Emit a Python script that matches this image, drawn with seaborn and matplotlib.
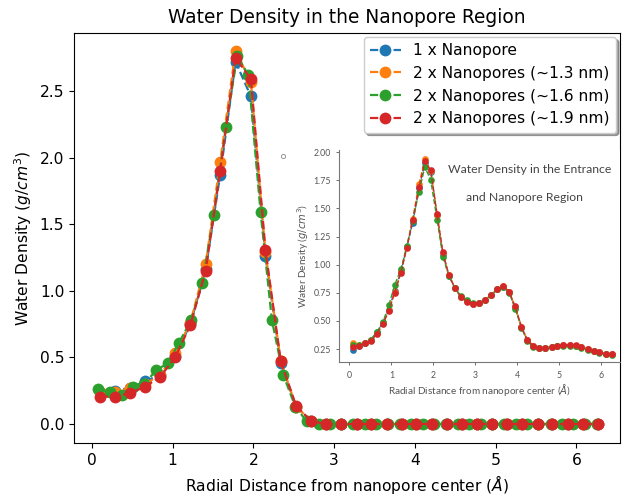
import matplotlib
matplotlib.use("Agg")
import matplotlib.pyplot as plt
import seaborn as sns

# ---------------- main plot data ----------------
x_main = [0.10, 0.29, 0.47, 0.66, 0.85, 1.03, 1.22, 1.41, 1.59, 1.78, 1.97, 2.15,
          2.34, 2.53, 2.72, 2.90, 3.09, 3.28, 3.46, 3.65, 3.84, 4.02, 4.21, 4.40,
          4.58, 4.77, 4.96, 5.14, 5.33, 5.52, 5.70, 5.89, 6.08, 6.27]
zeros19 = [0.0] * 19
blue_main = [0.24, 0.25, 0.27, 0.32, 0.37, 0.51, 0.75, 1.16, 1.87, 2.72, 2.46, 1.26,
             0.46, 0.13, 0.02] + zeros19
orange_main = [0.24, 0.24, 0.27, 0.30, 0.37, 0.53, 0.76, 1.20, 1.97, 2.80, 2.57, 1.29,
               0.47, 0.13, 0.02] + zeros19
red_main = [0.205, 0.205, 0.23, 0.28, 0.355, 0.50, 0.74, 1.15, 1.90, 2.75, 2.59, 1.31,
            0.47, 0.135, 0.02] + zeros19

x_green = [0.08, 0.22, 0.37, 0.51, 0.65, 0.80, 0.94, 1.08, 1.23, 1.37, 1.51, 1.66,
           1.80, 1.94, 2.09, 2.23, 2.37, 2.52, 2.66, 2.81, 2.95, 3.09, 3.24, 3.38,
           3.52, 3.67, 3.81, 3.95, 4.10, 4.24, 4.38, 4.53, 4.67, 4.82, 4.96, 5.10,
           5.25, 5.39, 5.53, 5.68, 5.82, 5.96, 6.11, 6.25]
green_main = [0.26, 0.24, 0.22, 0.28, 0.30, 0.405, 0.455, 0.61, 0.78, 1.06, 1.57, 2.23,
              2.76, 2.62, 1.59, 0.78, 0.37, 0.13, 0.02] + [0.0] * 25

stray_x = [2.37]
stray_y = [2.01]

labels = ["1 x Nanopore", "2 x Nanopores (~1.3 nm)",
          "2 x Nanopores (~1.6 nm)", "2 x Nanopores (~1.9 nm)"]
colors = ["#1f77b4", "#ff7f0e", "#2ca02c", "#d62728"]

# ---------------- inset data ----------------
x_inset = x_green
red_inset = [0.27, 0.28, 0.30, 0.32, 0.38, 0.47, 0.59, 0.75, 0.93, 1.15, 1.40, 1.69,
             1.92, 1.84, 1.45, 1.11, 0.91, 0.79, 0.71, 0.67, 0.65, 0.66, 0.69, 0.73,
             0.78, 0.81, 0.76, 0.63, 0.45, 0.33, 0.28, 0.26, 0.26, 0.27, 0.28, 0.285,
             0.29, 0.285, 0.27, 0.25, 0.235, 0.22, 0.21, 0.205]
green_inset = [0.29, 0.29, 0.30, 0.33, 0.40, 0.49, 0.64, 0.82, 0.96, 1.17, 1.39, 1.65,
               1.87, 1.75, 1.40, 1.07, 0.90, 0.79, 0.72, 0.69, 0.66, 0.66, 0.69, 0.73,
               0.78, 0.80, 0.75, 0.61, 0.44, 0.32, 0.27, 0.26, 0.26, 0.27, 0.28, 0.28,
               0.28, 0.28, 0.26, 0.245, 0.23, 0.215, 0.205, 0.20]
orange_inset = [0.30, 0.29, 0.30, 0.33, 0.39, 0.48, 0.60, 0.76, 0.94, 1.16, 1.41, 1.72,
                1.94, 1.83, 1.44, 1.10, 0.91, 0.79, 0.71, 0.68, 0.65, 0.66, 0.69, 0.73,
                0.78, 0.81, 0.76, 0.62, 0.45, 0.33, 0.28, 0.26, 0.26, 0.27, 0.28, 0.285,
                0.29, 0.28, 0.27, 0.25, 0.235, 0.22, 0.21, 0.205]
blue_inset = [0.24, 0.28, 0.30, 0.33, 0.40, 0.48, 0.60, 0.77, 0.94, 1.16, 1.37, 1.68,
              1.90, 1.82, 1.44, 1.09, 0.90, 0.79, 0.71, 0.68, 0.65, 0.66, 0.69, 0.73,
              0.78, 0.80, 0.76, 0.62, 0.45, 0.33, 0.28, 0.26, 0.26, 0.27, 0.28, 0.285,
              0.29, 0.28, 0.27, 0.25, 0.235, 0.22, 0.21, 0.205]

# ---------------- figure ----------------
fig = plt.figure(figsize=(6.22, 4.98), dpi=100)
W, H = 622, 498
ax = fig.add_axes([74 / W, 1 - 443 / H, (620 - 74) / W, (443 - 33) / H])

FS = 11.2
main_series = [(x_main, blue_main), (x_main, orange_main), (x_green, green_main), (x_main, red_main)]
for (xs, ys), lab, col in zip(main_series, labels, colors):
    sns.lineplot(x=xs, y=ys, ax=ax, color=col, label=lab, linestyle="--",
                 marker="o", markersize=8.5, markeredgewidth=0, linewidth=1.6, sort=False)

ax.plot(stray_x, stray_y, marker="o", markersize=3, markerfacecolor="none",
        markeredgecolor="#999999", markeredgewidth=0.7, linestyle="none")

ax.set_xlim(-0.22, 6.54)
ax.set_ylim(-0.143, 2.936)
ax.set_xticks([0, 1, 2, 3, 4, 5, 6])
ax.set_yticks([0.0, 0.5, 1.0, 1.5, 2.0, 2.5])
ax.set_title("Water Density in the Nanopore Region", fontsize=13.4, pad=7)
ax.set_xlabel(r"Radial Distance from nanopore center ($\AA$)", fontsize=FS)
ax.set_ylabel(r"Water Density ($g/cm^3$)", fontsize=FS)
ax.tick_params(labelsize=FS)
ax.legend(loc="upper right", fontsize=FS, shadow=True, borderaxespad=0.25)

# ---------------- inset ----------------
grey = "#555555"
axin = fig.add_axes([339.3 / W, 1 - 362.3 / H, (620 - 339.3) / W, (362.3 - 150) / H])
axin.set_facecolor("white")
inset_series = [blue_inset, orange_inset, green_inset, red_inset]
for ys, col in zip(inset_series, colors):
    sns.lineplot(x=x_inset, y=ys, ax=axin, color=col, linestyle="--", marker="o",
                 markersize=4.8, markeredgewidth=0, linewidth=1.0, sort=False, legend=False)
axin.set_xlim(-0.24, 6.45)
axin.set_ylim(0.132, 2.02)
axin.set_xticks([0, 1, 2, 3, 4, 5, 6])
axin.set_yticks([0.25, 0.50, 0.75, 1.00, 1.25, 1.50, 1.75, 2.00])
axin.yaxis.set_major_formatter(matplotlib.ticker.FormatStrFormatter("%.2f"))
for s in ["top", "right"]:
    axin.spines[s].set_visible(False)
for s in ["left", "bottom"]:
    axin.spines[s].set_color("#777777")
    axin.spines[s].set_linewidth(0.8)
axin.tick_params(labelsize=6.3, colors=grey, length=2.5, width=0.6)
for lab in axin.get_xticklabels() + axin.get_yticklabels():
    lab.set_family("Lato")
axin.set_xlabel(r"Radial Distance from nanopore center ($\AA$)", fontsize=7.2,
                color=grey, family="Lato", labelpad=2)
axin.set_ylabel(r"Water Density ($g/cm^3$)", fontsize=7.2, color=grey, family="Lato", labelpad=2)
axin.text(0.679, 0.906, "Water Density in the Entrance", transform=axin.transAxes,
          ha="center", va="center", fontsize=8.8, color="#444444", family="Lato")
axin.text(0.661, 0.774, "and Nanopore Region", transform=axin.transAxes,
          ha="center", va="center", fontsize=8.8, color="#444444", family="Lato")

fig.savefig("out.png", dpi=100)
